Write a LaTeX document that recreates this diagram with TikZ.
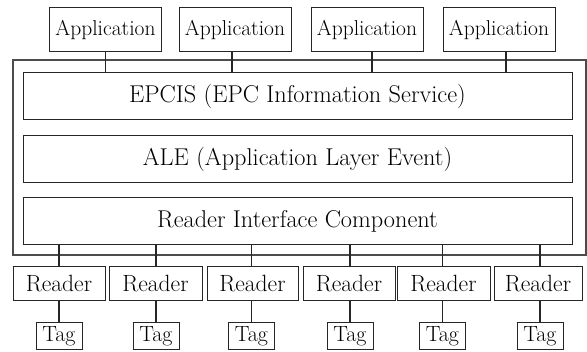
\documentclass[tikz,border=0pt]{standalone}
\usepackage{fontspec}
\begin{document}
\begin{tikzpicture}[x=1pt,y=-1pt,
  box/.style={draw=black!85,line width=1pt,inner sep=0pt},
  appbox/.style={box,minimum width=112pt,minimum height=44pt,font=\fontsize{21.5}{24}\selectfont},
  layer/.style={box,minimum width=549pt,minimum height=47pt,font=\fontsize{24.3}{27}\selectfont},
  readerbox/.style={box,minimum height=34pt,font=\fontsize{23.5}{26}\selectfont},
  tagbox/.style={box,minimum width=46pt,minimum height=27pt,font=\fontsize{22}{24}\selectfont},
  link/.style={draw=black!85,line width=1.7pt}]
\useasboundingbox (0,0) rectangle (587,352);

% middleware frame
\node[draw=black!70,line width=1.2pt,minimum width=573pt,minimum height=195pt,inner sep=0pt]
  (frame) at (299.5,157.5) {};

% application layer
\node[appbox] (app1) at (105.5,30) {Application};
\node[appbox] (app2) at (235,30) {Application};
\node[appbox] (app3) at (367,30) {Application};
\node[appbox] (app4) at (499,30) {Application};

% middleware layers
\node[layer] (epcis) at (297.5,96.5) {EPCIS (EPC Information Service)};
\node[layer] (ale) at (297.5,159.5) {ALE (Application Layer Event)};
\node[layer] (ric) at (297.5,221) {Reader Interface Component};

% readers
\node[readerbox,minimum width=92pt] (r1) at (59,284) {Reader};
\node[readerbox,minimum width=93pt] (r2) at (155.5,284) {Reader};
\node[readerbox,minimum width=91pt] (r3) at (252.5,284) {Reader};
\node[readerbox,minimum width=92pt] (r4) at (349,284) {Reader};
\node[readerbox,minimum width=93pt] (r5) at (443.5,284) {Reader};
\node[readerbox,minimum width=88pt] (r6) at (538,284) {Reader};

% tags
\node[tagbox] (t1) at (59,336.5) {Tag};
\node[tagbox] (t2) at (156,336.5) {Tag};
\node[tagbox] (t3) at (251.5,336.5) {Tag};
\node[tagbox] (t4) at (350,336.5) {Tag};
\node[tagbox] (t5) at (442.5,336.5) {Tag};
\node[tagbox] (t6) at (540,336.5) {Tag};

% applications to EPCIS
\draw[link] (app1.south) -- (app1.south |- epcis.north);
\draw[link] ([xshift=-3pt]app2.south) -- ([xshift=-3pt]app2.south |- epcis.north);
\draw[link] ([xshift=5pt]app3.south) -- ([xshift=5pt]app3.south |- epcis.north);
\draw[link] ([xshift=7pt]app4.south) -- ([xshift=7pt]app4.south |- epcis.north);

% reader interface to readers, readers to tags
\foreach \i in {1,...,6}{
  \draw[link] (t\i.north |- ric.south) -- (t\i.north |- r\i.north);
  \draw[link] (t\i.north |- r\i.south) -- (t\i.north);
}
\end{tikzpicture}
\end{document}
